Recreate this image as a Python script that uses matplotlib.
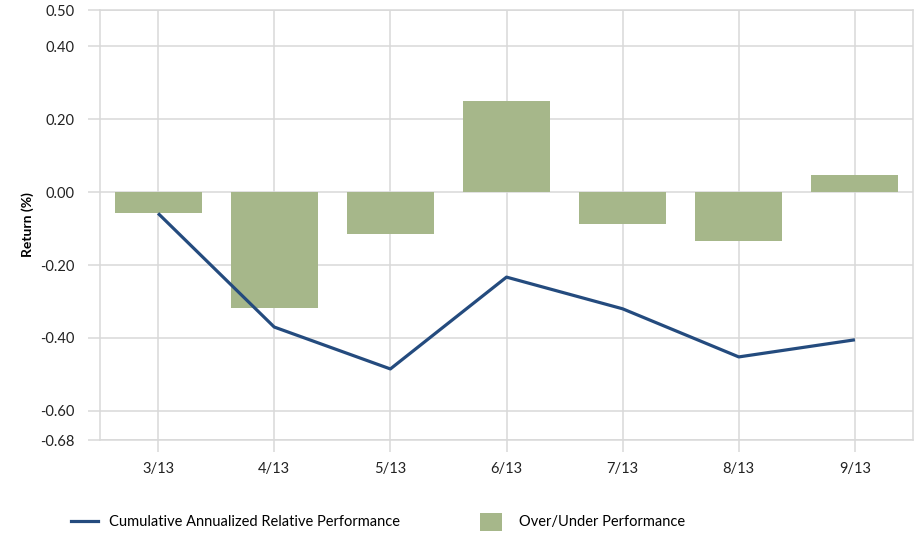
import matplotlib.pyplot as plt
from matplotlib.lines import Line2D
from matplotlib.patches import Patch

months = ['3/13', '4/13', '5/13', '6/13', '7/13', '8/13', '9/13']
over_under = [-0.058, -0.318, -0.115, 0.249, -0.088, -0.134, 0.047]
cumulative = [-0.058, -0.37, -0.485, -0.233, -0.32, -0.452, -0.405]
yticks = [0.50, 0.40, 0.20, 0.00, -0.20, -0.40, -0.60, -0.68]

bar_color = '#a6b78a'
line_color = '#244b7e'
grid_color = '#d9d9d9'

plt.rcParams['font.family'] = ['Lato', 'DejaVu Sans']
fs = 10.5

fig = plt.figure(figsize=(9.19, 5.35), dpi=100)
ax = fig.add_axes([100/919, 1 - 440/535, 813/919, 430/535])

x = list(range(len(months)))
ax.bar(x, over_under, width=0.75, color=bar_color, zorder=2)
ax.plot(x, cumulative, color=line_color, linewidth=2.3, zorder=3, solid_capstyle='butt')

ax.set_xlim(-0.5, len(months) - 0.5)
ax.set_ylim(-0.68, 0.50)
ax.set_yticks(yticks)
ax.set_yticklabels(['%.2f' % v for v in yticks])
ax.set_xticks(x)
ax.set_xticklabels(months)

ax.grid(True, color=grid_color, linewidth=1.1, zorder=0)
ax.set_axisbelow(True)
for s in ax.spines.values():
    s.set_color(grid_color)
    s.set_linewidth(1.1)
ax.tick_params(axis='both', colors=grid_color, length=8.6, width=1.1,
               labelcolor='#222222', labelsize=fs)
ax.tick_params(axis='y', pad=10)
ax.tick_params(axis='x', pad=7)

ax.set_ylabel('Return (%)', fontsize=10, fontweight='bold')
ax.yaxis.set_label_coords(-0.081, 0.5)

h1 = Line2D([], [], color=line_color, linewidth=2.3)
h2 = Patch(facecolor=bar_color, edgecolor='none')
fig.legend([h1], ['Cumulative Annualized Relative Performance'], loc='center left',
           bbox_to_anchor=(0.063, 0.025), frameon=False, fontsize=fs,
           handlelength=1.85, handletextpad=0.75)
fig.legend([h2], ['Over/Under Performance'], loc='center left',
           bbox_to_anchor=(0.508, 0.025), frameon=False, fontsize=fs,
           handlelength=1.5, handleheight=1.5, handletextpad=1.15)

fig.savefig('out.png', dpi=100)
